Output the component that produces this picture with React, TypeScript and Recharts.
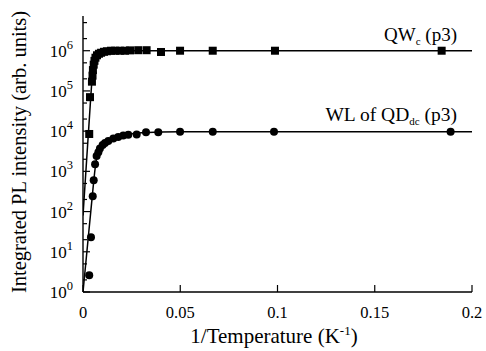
import { ScatterChart, Scatter, XAxis, YAxis } from 'recharts';

// QW_c (p3) measured points
const qwX = [0.0032, 0.0036, 0.0046, 0.0049, 0.0051, 0.0055, 0.0059, 0.0064, 0.0072, 0.0082, 0.0093, 0.0108, 0.0123, 0.0144, 0.0165, 0.019, 0.0216, 0.0242, 0.0284, 0.0327, 0.0401, 0.0499, 0.0667, 0.0987, 0.1844];
const qwY = [8.5e3, 7e4, 1.7e5, 2.4e5, 3.3e5, 4.5e5, 5.6e5, 6.7e5, 7.7e5, 8.4e5, 8.9e5, 9.4e5, 9.7e5, 1e6, 1e6, 1e6, 1e6, 1.02e6, 1.03e6, 1.03e6, 9.3e5, 1e6, 1e6, 1e6, 1e6];

// WL of QD_dc (p3) measured points
const wlX = [0.0032, 0.0041, 0.005, 0.0055, 0.0062, 0.007, 0.0079, 0.0087, 0.0101, 0.0113, 0.013, 0.0156, 0.0181, 0.0207, 0.0233, 0.0276, 0.0324, 0.0387, 0.0499, 0.0667, 0.0982, 0.189];
const wlY = [2.6, 23, 240, 600, 1500, 2400, 3000, 3700, 4500, 5100, 5700, 6600, 7200, 7800, 8100, 8300, 9400, 9400, 9600, 9600, 9600, 9600];

// fit curves
const qwFitX = [0, 0.002, 0.003, 0.004, 0.0045, 0.005, 0.0055, 0.006, 0.007, 0.008, 0.01, 0.013, 0.02, 0.2];
const qwFitY = [80, 2400, 1.3e4, 7.2e4, 1.6e5, 2.8e5, 4.2e5, 5.5e5, 7.2e5, 8.3e5, 9.2e5, 9.8e5, 1e6, 1e6];
const wlFitX = [0, 0.002, 0.003, 0.004, 0.005, 0.0055, 0.006, 0.0065, 0.007, 0.008, 0.009, 0.01, 0.012, 0.015, 0.02, 0.025, 0.03, 0.04, 0.05, 0.2];
const wlFitY = [1, 10, 32, 100, 316, 560, 950, 1500, 2100, 3000, 3800, 4400, 5500, 6700, 7900, 8600, 9100, 9500, 9600, 9600];

const xTicks = [0, 0.05, 0.1, 0.15, 0.2];
const yMajor = [1, 10, 100, 1e3, 1e4, 1e5, 1e6];
const yMinor = [2, 5, 20, 50, 200, 500, 2e3, 5e3, 2e4, 5e4, 2e5, 5e5, 2e6, 5e6];

const zip = (xs: number[], ys: number[]) => xs.map((x, i) => ({ x, y: ys[i] }));
const qwData = zip(qwX, qwY);
const wlData = zip(wlX, wlY);
const qwFit = zip(qwFitX, qwFitY);
const wlFit = zip(wlFitX, wlFitY);

const FONT = '"Liberation Serif", "DejaVu Serif", serif';
const yDomain = [1, 7.3e6];
const allYTicks = [...yMajor, ...yMinor].sort((a, b) => a - b);

const BottomTick = ({ x, y, payload }: any) => (
  <g>
    <line x1={x} y1={y} x2={x} y2={y - 7} stroke="#000" strokeWidth={1.2} />
    <text x={x} y={y + 26} textAnchor="middle" fontFamily={FONT} fontSize={16.5} fill="#000">
      {String(payload.value)}
    </text>
  </g>
);

const TopTick = ({ x, y }: any) => (
  <line x1={x} y1={y} x2={x} y2={y + 7} stroke="#000" strokeWidth={1.2} />
);

const LeftTick = ({ x, y, payload }: any) => {
  const major = yMajor.includes(payload.value);
  if (!major) return <line x1={x} y1={y} x2={x + 4} y2={y} stroke="#000" strokeWidth={1.2} />;
  const n = Math.round(Math.log10(payload.value));
  return (
    <g>
      <line x1={x} y1={y} x2={x + 7} y2={y} stroke="#000" strokeWidth={1.2} />
      <text x={x - 10} y={y + 6} textAnchor="end" fontFamily={FONT} fontSize={17} fill="#000">
        <tspan>10</tspan>
        <tspan dy={-8} fontSize={12.5}>{n}</tspan>
      </text>
    </g>
  );
};

const RightTick = ({ x, y, payload }: any) => {
  const len = yMajor.includes(payload.value) ? 7 : 4;
  return <line x1={x} y1={y} x2={x - len} y2={y} stroke="#000" strokeWidth={1.2} />;
};

const Square = ({ cx, cy }: any) => <rect x={cx - 4} y={cy - 4} width={8} height={8} fill="#000" />;
const Dot = ({ cx, cy }: any) => <circle cx={cx} cy={cy} r={4} fill="#000" />;
const NoMark = () => <g />;

export default function App() {
  return (
    <div style={{ position: 'relative', width: 486, height: 351, background: '#fff' }}>
      <style>{'body{margin:0}'}</style>
      <ScatterChart width={486} height={351} margin={{ top: 16, right: 14, bottom: 0, left: 0 }}>
        <XAxis xAxisId="b" dataKey="x" type="number" domain={[0, 0.2]} ticks={xTicks}
          height={59} tickSize={0} tickMargin={0} tick={<BottomTick />}
          axisLine={{ stroke: '#000', strokeWidth: 1.4 }} allowDataOverflow />
        <XAxis xAxisId="t" orientation="top" dataKey="x" type="number" domain={[0, 0.2]} ticks={xTicks}
          height={0} tickSize={0} tickMargin={0} tick={<TopTick />}
          axisLine={{ stroke: '#000', strokeWidth: 1.4 }} />
        <YAxis yAxisId="l" dataKey="y" type="number" scale="log" domain={yDomain} ticks={allYTicks}
          width={83} tickSize={0} tickMargin={0} tick={<LeftTick />} interval={0}
          axisLine={{ stroke: '#000', strokeWidth: 1.4 }} allowDataOverflow />
        <YAxis yAxisId="r" orientation="right" dataKey="y" type="number" scale="log" domain={yDomain} ticks={allYTicks}
          width={0} tickSize={0} tickMargin={0} tick={<RightTick />} interval={0}
          axisLine={{ stroke: '#000', strokeWidth: 1.4 }} allowDataOverflow />
        <Scatter xAxisId="b" yAxisId="l" data={qwFit} line={{ stroke: '#000', strokeWidth: 1.5 }} shape={<NoMark />} isAnimationActive={false} />
        <Scatter xAxisId="b" yAxisId="l" data={wlFit} line={{ stroke: '#000', strokeWidth: 1.5 }} shape={<NoMark />} isAnimationActive={false} />
        <Scatter xAxisId="b" yAxisId="l" data={qwData} shape={<Square />} isAnimationActive={false} />
        <Scatter xAxisId="b" yAxisId="l" data={wlData} shape={<Dot />} isAnimationActive={false} />
      </ScatterChart>
      <svg width={486} height={351} style={{ position: 'absolute', left: 0, top: 0, pointerEvents: 'none' }}>
        <text x={457} y={41} textAnchor="end" fontFamily={FONT} fontSize={19} fill="#000">
          <tspan>QW</tspan>
          <tspan dy={4} fontSize={11}>c</tspan>
          <tspan dy={-4}> (p3)</tspan>
        </text>
        <text x={457} y={121} textAnchor="end" fontFamily={FONT} fontSize={19.5} fill="#000">
          <tspan>WL of QD</tspan>
          <tspan dy={4} fontSize={11}>dc</tspan>
          <tspan dy={-4}> (p3)</tspan>
        </text>
        <text x={274} y={343} textAnchor="middle" fontFamily={FONT} fontSize={21} fill="#000">
          <tspan>1/Temperature (K</tspan>
          <tspan dy={-8} fontSize={13}>-1</tspan>
          <tspan dy={8}>)</tspan>
        </text>
        <text x={26} y={152} textAnchor="middle" fontFamily={FONT} fontSize={20.5} fill="#000"
          transform="rotate(-90 26 152)">
          Integrated PL intensity (arb. units)
        </text>
      </svg>
    </div>
  );
}
